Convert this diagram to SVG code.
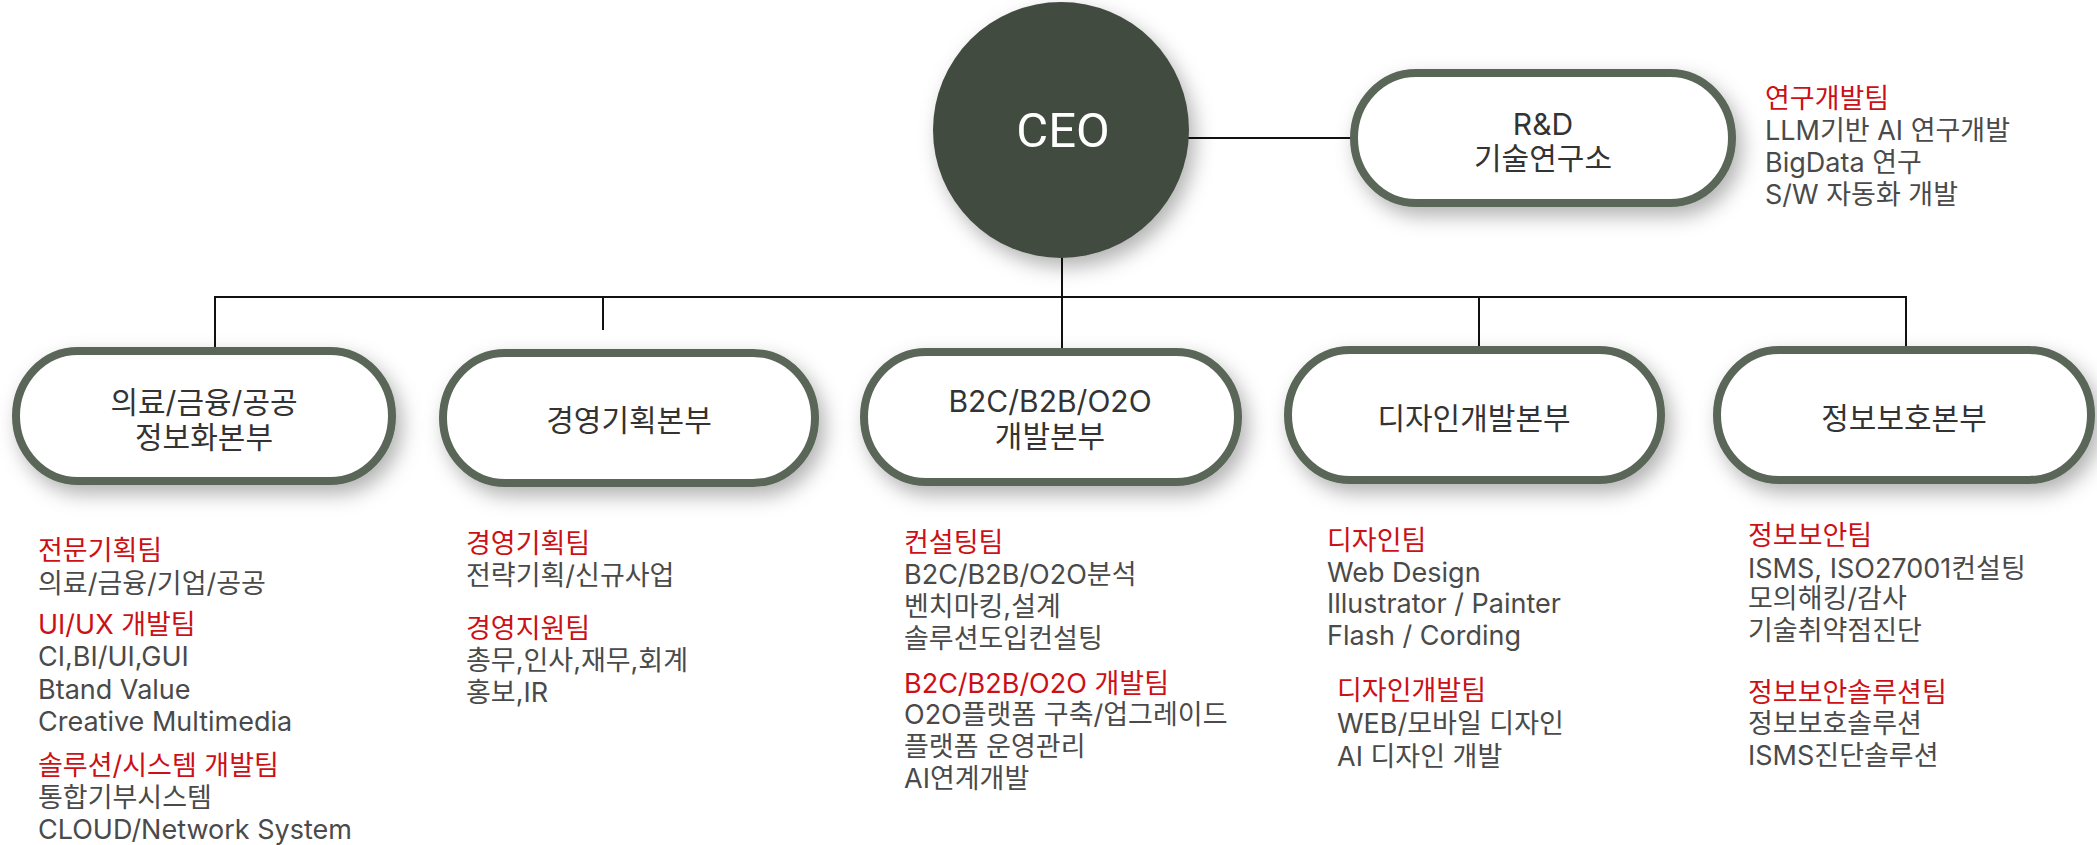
<svg xmlns="http://www.w3.org/2000/svg" width="2097" height="845" viewBox="0 0 2097 845">
<defs>
<filter id="sh" x="-20%" y="-30%" width="140%" height="170%">
<feDropShadow dx="6" dy="9" stdDeviation="10" flood-color="#000" flood-opacity="0.3"/>
</filter>
<style>
.node{fill:#fff;stroke:#5a6658;stroke-width:8;filter:url(#sh)}
.lbl{font-family:Inter,"Noto Sans CJK KR",sans-serif;font-size:30px;font-weight:400;fill:#333;text-anchor:middle}
.t{font-family:Inter,"Noto Sans CJK KR",sans-serif;font-size:27px;fill:#4a4a4a}
.r{fill:#cc1016}
.ln{stroke:#111;stroke-width:2;fill:none}
</style>
</defs>
<rect width="2097" height="845" fill="#fff"/>

<g id="connectors">
<line class="ln" x1="1188" y1="138" x2="1352" y2="138"/>
<line class="ln" x1="1062" y1="250" x2="1062" y2="349"/>
<polyline class="ln" points="215,349 215,297 1906,297 1906,348"/>
<line class="ln" x1="603" y1="297" x2="603" y2="330"/>
<line class="ln" x1="1479" y1="297" x2="1479" y2="348"/>
</g>

<g id="ceo">
<circle cx="1061" cy="130" r="128" fill="#424b41" filter="url(#sh)"/>
<text x="1063" y="147" font-family="Roboto,'Noto Sans',sans-serif" font-size="49" fill="#fff" text-anchor="middle">CEO</text>
</g>

<g id="rnd">
<rect class="node" x="1354" y="73" width="378" height="130" rx="62" ry="65"/>
<text class="lbl" x="1543" y="135">R&amp;D</text>
<text class="lbl" x="1543" y="169">기술연구소</text>
</g>
<g id="rnd-teams">
<text class="t r" x="1765" y="108">연구개발팀</text>
<text class="t" x="1765" y="140">LLM기반 AI 연구개발</text>
<text class="t" x="1765" y="172">BigData 연구</text>
<text class="t" x="1765" y="204">S/W 자동화 개발</text>
</g>

<g id="div1">
<rect class="node" x="16" y="351" width="376" height="130" rx="62" ry="65"/>
<text class="lbl" x="204" y="413">의료/금융/공공</text>
<text class="lbl" x="204" y="448">정보화본부</text>
</g>
<g id="div1-teams">
<text class="t r" x="38" y="560">전문기획팀</text>
<text class="t" x="38" y="593">의료/금융/기업/공공</text>
<text class="t r" x="38" y="634">UI/UX 개발팀</text>
<text class="t" x="38" y="666">CI,BI/UI,GUI</text>
<text class="t" x="38" y="699">Btand Value</text>
<text class="t" x="38" y="731">Creative Multimedia</text>
<text class="t r" x="38" y="775">솔루션/시스템 개발팀</text>
<text class="t" x="38" y="807">통합기부시스템</text>
<text class="t" x="38" y="839">CLOUD/Network System</text>
</g>

<g id="div2">
<rect class="node" x="443" y="353" width="372" height="130" rx="62" ry="65"/>
<text class="lbl" x="629" y="431">경영기획본부</text>
</g>
<g id="div2-teams">
<text class="t r" x="466" y="553">경영기획팀</text>
<text class="t" x="466" y="585">전략기획/신규사업</text>
<text class="t r" x="466" y="638">경영지원팀</text>
<text class="t" x="466" y="670">총무,인사,재무,회계</text>
<text class="t" x="466" y="702">홍보,IR</text>
</g>

<g id="div3">
<rect class="node" x="864" y="352" width="374" height="130" rx="62" ry="65"/>
<text class="lbl" x="1050" y="412">B2C/B2B/O2O</text>
<text class="lbl" x="1050" y="447">개발본부</text>
</g>
<g id="div3-teams">
<text class="t r" x="904" y="552">컨설팅팀</text>
<text class="t" x="904" y="584">B2C/B2B/O2O분석</text>
<text class="t" x="904" y="616">벤치마킹,설계</text>
<text class="t" x="904" y="648">솔루션도입컨설팅</text>
<text class="t r" x="904" y="693">B2C/B2B/O2O 개발팀</text>
<text class="t" x="904" y="724">O2O플랫폼 구축/업그레이드</text>
<text class="t" x="904" y="756">플랫폼 운영관리</text>
<text class="t" x="904" y="788">AI연계개발</text>
</g>

<g id="div4">
<rect class="node" x="1288" y="350" width="373" height="130" rx="62" ry="65"/>
<text class="lbl" x="1474" y="429">디자인개발본부</text>
</g>
<g id="div4-teams">
<text class="t r" x="1327" y="550">디자인팀</text>
<text class="t" x="1327" y="582">Web Design</text>
<text class="t" x="1327" y="613">Illustrator / Painter</text>
<text class="t" x="1327" y="645">Flash / Cording</text>
<text class="t r" x="1337" y="700">디자인개발팀</text>
<text class="t" x="1337" y="733">WEB/모바일 디자인</text>
<text class="t" x="1337" y="766">AI 디자인 개발</text>
</g>

<g id="div5">
<rect class="node" x="1717" y="350" width="374" height="130" rx="62" ry="65"/>
<text class="lbl" x="1904" y="429">정보보호본부</text>
</g>
<g id="div5-teams">
<text class="t r" x="1748" y="545">정보보안팀</text>
<text class="t" x="1748" y="578">ISMS, ISO27001컨설팅</text>
<text class="t" x="1748" y="608">모의해킹/감사</text>
<text class="t" x="1748" y="640">기술취약점진단</text>
<text class="t r" x="1748" y="702">정보보안솔루션팀</text>
<text class="t" x="1748" y="733">정보보호솔루션</text>
<text class="t" x="1748" y="765">ISMS진단솔루션</text>
</g>
</svg>
